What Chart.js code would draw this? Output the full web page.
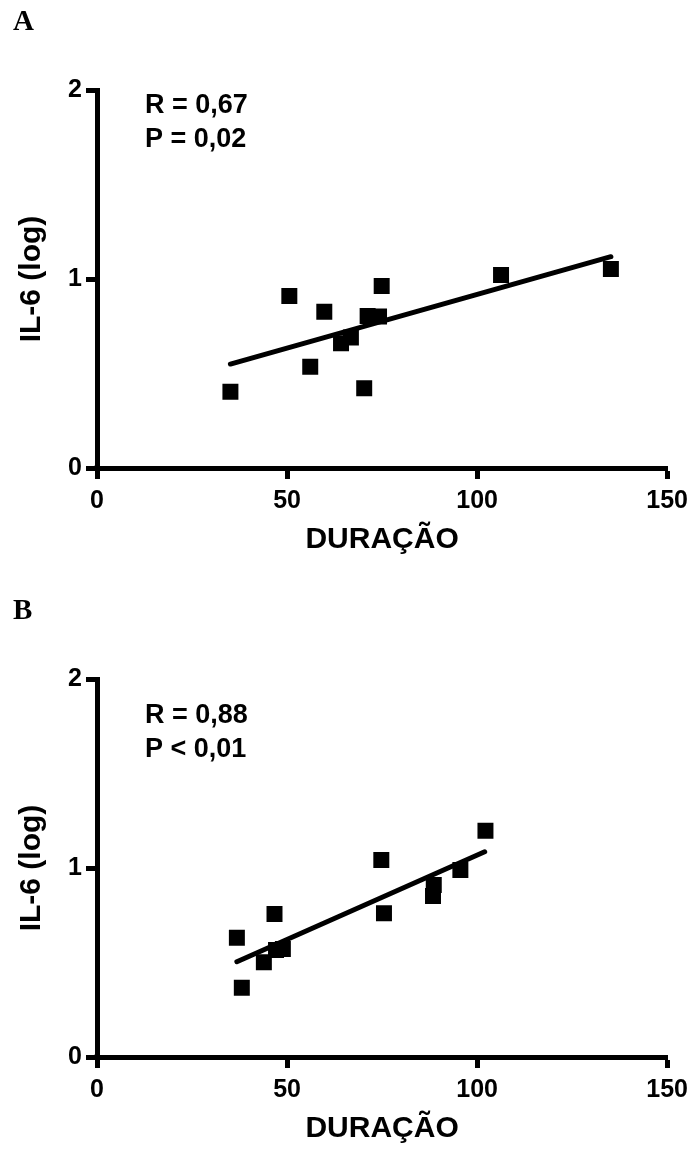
<!DOCTYPE html>
<html>
<head>
<meta charset="utf-8">
<script src="https://cdn.jsdelivr.net/npm/chart.js@4/dist/chart.umd.min.js"></script>
<style>
  html, body { margin: 0; padding: 0; background: #fff; overflow: hidden; }
  #page { position: relative; width: 695px; height: 1151px; }
  canvas { position: absolute; left: 0; }
  .panel { position: absolute; left: 13px; font: bold 29px "Liberation Serif", "Times New Roman", serif; color: #000; }
</style>
</head>
<body>
<div id="page">
  <canvas id="chartA" width="695" height="589" style="top:0"></canvas>
  <canvas id="chartB" width="695" height="562" style="top:589px"></canvas>
  <div class="panel" style="top:4px">A</div>
  <div class="panel" style="top:593px">B</div>
</div>
<script>
// Panel A: duration vs IL-6 (log)
const durA = [35.1, 50.6, 59.8, 56.1, 64.2, 66.8, 70.3, 71.2, 74.2, 74.9, 106.3, 135.2]
const il6A = [0.404, 0.910, 0.827, 0.536, 0.660, 0.691, 0.422, 0.804, 0.801, 0.963, 1.021, 1.053]
const fitXA = [35.1, 135.2]
const fitYA = [0.550, 1.118]
const statsA = ['R = 0,67', 'P = 0,02']

// Panel B
const durB = [36.8, 38.1, 43.9, 46.7, 47.1, 48.9, 74.8, 75.5, 88.6, 88.4, 95.6, 102.2]
const il6B = [0.631, 0.367, 0.501, 0.757, 0.566, 0.571, 1.042, 0.760, 0.910, 0.852, 0.989, 1.197]
const fitXB = [36.8, 102.0]
const fitYB = [0.504, 1.086]
const statsB = ['R = 0,88', 'P < 0,01']

const xTicks = [0, 50, 100, 150]
const yTicks = [0, 1, 2]
const xTitle = 'DURAÇÃO'
const yTitle = 'IL-6 (log)'

const FONT = '"Liberation Sans", Arial, Helvetica, sans-serif'
Chart.defaults.font.family = FONT
Chart.defaults.font.weight = 'bold'
Chart.defaults.color = '#000'

// writes the R / P lines in the upper-left of the plot
const statsText = {
  id: 'statsText',
  afterDraw(chart, args, opts) {
    const ctx = chart.ctx
    ctx.save()
    ctx.font = 'bold 27px ' + FONT
    ctx.fillStyle = '#000'
    ctx.textBaseline = 'alphabetic'
    opts.lines.forEach((t, i) => ctx.fillText(t, opts.x, opts.y + i * opts.gap))
    ctx.restore()
  },
}

// fills the small gap where the two thick axis lines meet
const axisCorner = {
  id: 'axisCorner',
  afterDraw(chart) {
    const { ctx, chartArea } = chart
    ctx.save()
    ctx.fillStyle = '#000'
    ctx.fillRect(chartArea.left - 2.5, chartArea.bottom - 2.5, 5, 5)
    ctx.restore()
  },
}

function toPoints(xs, ys) {
  return xs.map((x, i) => ({ x, y: ys[i] }))
}

function axisStyle() {
  return {
    border: { display: true, color: '#000', width: 5 },
    grid: {
      drawOnChartArea: false,
      drawTicks: true,
      tickLength: 11,
      tickWidth: 5,
      tickColor: '#000',
    },
  }
}

function makeChart(id, xs, ys, fx, fy, stats, statsY, padBottom) {
  const ctx = document.getElementById(id).getContext('2d')
  return new Chart(ctx, {
    type: 'scatter',
    data: {
      datasets: [
        {
          data: toPoints(xs, ys),
          pointStyle: 'rect',
          pointRadius: 11.3,
          backgroundColor: '#000',
          borderColor: '#000',
          borderWidth: 0,
          showLine: false,
        },
        {
          data: toPoints(fx, fy),
          showLine: true,
          pointRadius: 0,
          borderColor: '#000',
          borderWidth: 5,
          borderCapStyle: 'round',
        },
      ],
    },
    options: {
      responsive: false,
      animation: false,
      layout: { padding: { left: 0, right: 26, top: 90, bottom: padBottom } },
      plugins: {
        legend: { display: false },
        tooltip: { enabled: false },
        statsText: { lines: stats, x: 145, y: statsY, gap: 34 },
      },
      scales: {
        x: {
          type: 'linear',
          min: 0,
          max: 150,
          ...axisStyle(),
          afterBuildTicks: (s) => { s.ticks = xTicks.map((v) => ({ value: v })) },
          afterFit: (s) => { s.height = 90 },
          ticks: { font: { size: 25, weight: 'bold' }, padding: 7, maxRotation: 0 },
          title: {
            display: true,
            text: xTitle,
            font: { size: 30, weight: 'bold', lineHeight: 1 },
            padding: { top: 0, bottom: 3 },
          },
        },
        y: {
          type: 'linear',
          min: 0,
          max: 2,
          ...axisStyle(),
          afterBuildTicks: (s) => { s.ticks = yTicks.map((v) => ({ value: v })) },
          afterFit: (s) => { s.width = 97 },
          ticks: { font: { size: 25, weight: 'bold' }, padding: 4 },
          title: {
            display: true,
            text: yTitle,
            font: { size: 30, weight: 'bold', lineHeight: 1 },
            padding: { top: 17, bottom: 0 },
          },
        },
      },
    },
    plugins: [statsText, axisCorner],
  })
}

makeChart('chartA', durA, il6A, fitXA, fitYA, statsA, 113, 589 - 468 - 90)
makeChart('chartB', durB, il6B, fitXB, fitYB, statsB, 134, 562 - 468 - 90)
</script>
</body>
</html>
